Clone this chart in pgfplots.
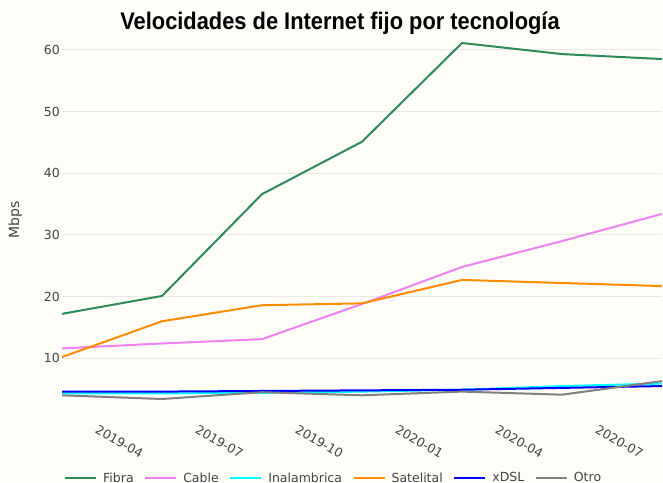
\documentclass[border=0pt]{standalone}
\usepackage{fontspec}
\setmainfont{DejaVu Sans}
\newfontfamily\titlefont[FakeStretch=0.91]{Liberation Sans}
\usepackage{pgfplots}
\pgfplotsset{compat=1.18}
\definecolor{bg}{HTML}{FFFDF8}
\definecolor{fibra}{HTML}{2E8B57}
\definecolor{cable}{HTML}{EE82EE}
\definecolor{inal}{HTML}{00FFFF}
\definecolor{sat}{HTML}{FF8C00}
\definecolor{xdsl}{HTML}{0000FF}
\definecolor{otro}{HTML}{808080}
\definecolor{tickc}{HTML}{444444}
\definecolor{gridc}{HTML}{EAE8E3}
\begin{document}
\begin{tikzpicture}[x=1pt,y=1pt]
\fill[bg] (0,0) rectangle (663,482);
\useasboundingbox (0,0) rectangle (663,482);
\node[font=\titlefont\bfseries\fontsize{24}{28}\selectfont, anchor=base, inner sep=0pt] at (340,452) {Velocidades de Internet fijo por tecnología};
\begin{axis}[
  at={(62pt,83pt)}, anchor=south west,
  width=600pt, height=356pt, scale only axis,
  xmin=0, xmax=6, ymin=3.4, ymax=61.1,
  axis line style={draw=none},
  major tick length=0pt,
  tick style={draw=none},
  ytick={10,20,30,40,50,60},
  ymajorgrids,
  grid style={gridc, line width=1pt},
  xtick={0.31,1.31,2.31,3.31,4.31,5.31},
  xticklabels={2019-04,2019-07,2019-10,2020-01,2020-04,2020-07},
  /pgf/number format/assume math mode=true,
  ticklabel style={font=\fontsize{12.5}{14}\selectfont, text=tickc},
  xticklabel style={xshift=6pt, yshift=-25pt, rotate=-30, anchor=north west, inner sep=0pt},
  yticklabel style={anchor=east, inner sep=0pt, xshift=-2pt},
  ylabel={Mbps},
  ylabel style={at={(axis description cs:-0.078,0.503)}, anchor=center, font=\fontsize{14}{16}\selectfont, text=tickc},
  legend columns=6,
  legend style={at={(axis description cs:0.0033,-0.222)}, anchor=west, draw=none, fill=none, inner sep=0pt,
    font=\fontsize{12.5}{14}\selectfont, text=tickc,
    nodes={inner sep=0pt},
    /tikz/every odd column/.append style={column sep=6pt},
    /tikz/every even column/.append style={column sep=10.6pt}},
  legend image code/.code={\draw[#1] (0pt,0pt) -- (31pt,0pt);},
  every axis plot/.append style={line width=2pt, line join=round},
  clip=true,
]
\addplot[fibra] coordinates {(0,17.2) (1,20.1) (2,36.6) (3,45.1) (4,61.1) (5,59.3) (6,58.5)};
\addlegendentry{Fibra}
\addplot[cable] coordinates {(0,11.6) (1,12.4) (2,13.1) (3,18.8) (4,24.8) (5,29.0) (6,33.4)};
\addlegendentry{Cable}
\addplot[inal] coordinates {(0,4.3) (1,4.3) (2,4.4) (3,4.6) (4,4.9) (5,5.5) (6,5.9)};
\addlegendentry{Inalambrica}
\addplot[sat] coordinates {(0,10.2) (1,16.0) (2,18.6) (3,18.9) (4,22.7) (5,22.2) (6,21.7)};
\addlegendentry{Satelital}
\addplot[xdsl] coordinates {(0,4.6) (1,4.6) (2,4.7) (3,4.8) (4,4.9) (5,5.2) (6,5.5)};
\addlegendentry{xDSL}
\addplot[otro] coordinates {(0,4.0) (1,3.4) (2,4.5) (3,4.0) (4,4.6) (5,4.1) (6,6.3)};
\addlegendentry{Otro}
\end{axis}
\end{tikzpicture}
\end{document}
